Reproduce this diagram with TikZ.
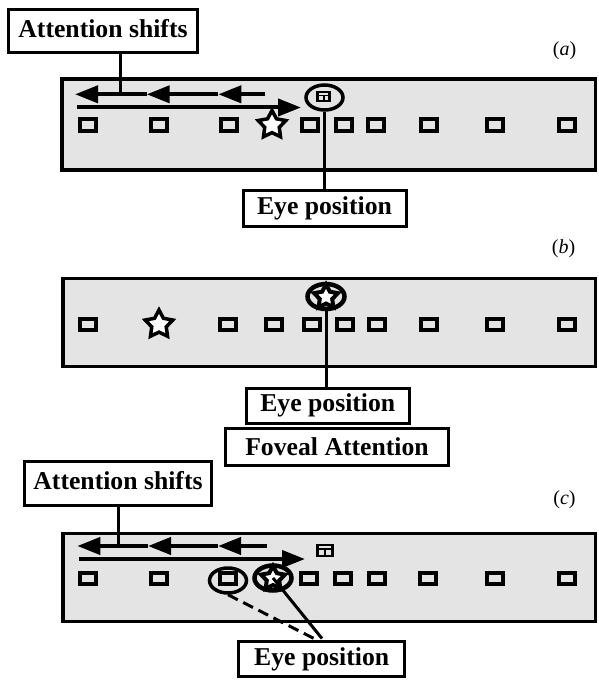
\documentclass[tikz,border=0pt]{standalone}
\usepackage{fontspec}
\setmainfont{Liberation Serif}
\usetikzlibrary{arrows.meta,shapes.geometric}
\definecolor{panelgray}{RGB}{228,228,228}
\tikzset{
  panel/.style={draw=black, fill=panelgray, line width=3.5bp},
  labelbox/.style={draw=black, fill=white, line width=3bp,
    font=\fontsize{25.7bp}{30bp}\selectfont\bfseries, inner sep=0pt,
    text height=17.5bp, text depth=5.5bp, align=center},
  item/.style={draw=black, line width=4bp, minimum width=16bp, minimum height=11bp, inner sep=0pt},
  starmark/.style={star, star points=5, star point ratio=1.9, draw=black, fill=white,
    line width=3.5bp, minimum size=29bp, inner sep=0pt},
  eyestar/.style={star, star points=5, star point ratio=1.9, draw=black, fill=white,
    line width=4bp, minimum size=25bp, inner sep=0pt},
  eyering/.style={ellipse, draw=black, line width=3.5bp, minimum width=37bp, minimum height=25bp, inner sep=0pt},
  fixbox/.style={draw=black, line width=2.5bp, minimum width=12bp, minimum height=9bp, inner sep=0pt},
  fixline/.style={line width=1.8bp},
  conn/.style={line width=3bp},
  shiftarrow/.style={line width=4bp, -{Triangle[length=23bp,width=17bp]}},
  panellabel/.style={font=\fontsize{20bp}{24bp}\selectfont, inner sep=0pt},
}
\begin{document}
\begin{tikzpicture}[x=1bp,y=-1bp]
\useasboundingbox (0,0) rectangle (599,680);

%% ---------------- panel (a) ----------------
\draw[panel] (62,79) rectangle (595.5,170);
\node[panellabel] (labA) at (564.5,51) {(\textit{a})};
\foreach \x [count=\i] in {87.5,158.5,228.5,310,344,376,428.5,495,567}
  \node[item] (sqA\i) at (\x,125) {};
\node[starmark] (starA) at (272,125) {};
% attention shift arrows
\coordinate (a0) at (265,94.3);
\coordinate (a1) at (218.3,94.3);
\coordinate (a2) at (146.7,94.3);
\coordinate (a3) at (75,94.3);
\draw[shiftarrow] (a0) -- (a1);
\draw[shiftarrow] (a1) -- (a2);
\draw[shiftarrow] (a2) -- (a3);
\coordinate (r0) at (77,107.5);
\coordinate (r1) at (301,107.5);
\draw[shiftarrow] (r0) -- (r1);
% fixation mark + eye ring
\node[fixbox] (fixA) at (323.7,96.7) {};
\draw[fixline] ([yshift=1.2bp]fixA.west) -- ([yshift=1.2bp]fixA.east);
\draw[fixline] ([yshift=1.2bp]fixA.center) -- (fixA.south);
\node[eyering] (ringA) at (324.5,97.5) {};
% labels
\node[labelbox, minimum width=189bp, minimum height=43bp] (attA) at (103,31.3) {Attention shifts};
\coordinate (attAend) at (120,94.3);
\draw[conn] (attA.south -| attAend) -- (attAend);
\node[labelbox, minimum width=163bp, minimum height=36bp] (eyeA) at (324.5,208.5) {Eye position};
\draw[conn] (eyeA.north -| ringA.south) -- (ringA.south);

%% ---------------- panel (b) ----------------
\draw[panel] (63,278.5) rectangle (595.5,366.5);
\node[panellabel] (labB) at (563.5,249) {(\textit{b})};
\foreach \x [count=\i] in {87.5,228,274,312,345,377,428.5,495,567}
  \node[item] (sqB\i) at (\x,324.5) {};
\node[starmark] (starB) at (159,324.5) {};
\node[eyering, line width=4.5bp] (ringB) at (326,296.5) {};
\node[eyestar] (fovB) at (326,297) {};
\node[labelbox, minimum width=163bp, minimum height=35bp] (eyeB) at (327.8,405.8) {Eye position};
\draw[conn] (eyeB.north -| ringB.south) -- (ringB.south);
\node[labelbox, minimum width=223bp, minimum height=37bp, text height=23.5bp] (fovealB) at (337,446.8) {Foveal Attention};

%% ---------------- panel (c) ----------------
\draw[panel] (63,533.5) rectangle (595.5,621.5);
\node[panellabel] (labC) at (564.5,500) {(\textit{c})};
\foreach \x [count=\i] in {87.5,159,228,309,343,377,428,495,567}
  \node[item] (sqC\i) at (\x,578) {};
\node[eyering] (ringC) at (228,580.5) {};
\node[eyering, line width=4.5bp] (blobC) at (273,578) {};
\node[eyestar] (fovC) at (273,578.5) {};
% attention shift arrows
\coordinate (c0) at (266.7,546);
\coordinate (c1) at (218,546);
\coordinate (c2) at (148,546);
\coordinate (c3) at (77.3,546);
\draw[shiftarrow] (c0) -- (c1);
\draw[shiftarrow] (c1) -- (c2);
\draw[shiftarrow] (c2) -- (c3);
\coordinate (cr0) at (79,559);
\coordinate (cr1) at (305,559);
\draw[shiftarrow] (cr0) -- (cr1);
\node[fixbox, minimum width=15bp, minimum height=11bp] (fixC) at (325,550.5) {};
\draw[fixline] ([yshift=1.5bp]fixC.west) -- ([yshift=1.5bp]fixC.east);
\draw[fixline] ([yshift=1.5bp]fixC.center) -- (fixC.south);
% labels
\node[labelbox, minimum width=187bp, minimum height=44bp] (attC) at (118,483.2) {Attention shifts};
\coordinate (attCend) at (118.3,546);
\draw[conn] (attC.south -| attCend) -- (attCend);
\node[labelbox, minimum width=166bp, minimum height=35bp] (eyeC) at (321.7,659) {Eye position};
\coordinate (eyeCin1) at (314,638.5);
\coordinate (eyeCin2) at (322,638.5);
\draw[conn, dash pattern=on 11bp off 6bp] (ringC.south) -- (eyeCin1);
\draw[conn] (blobC.center) -- (eyeCin2);
\end{tikzpicture}
\end{document}
